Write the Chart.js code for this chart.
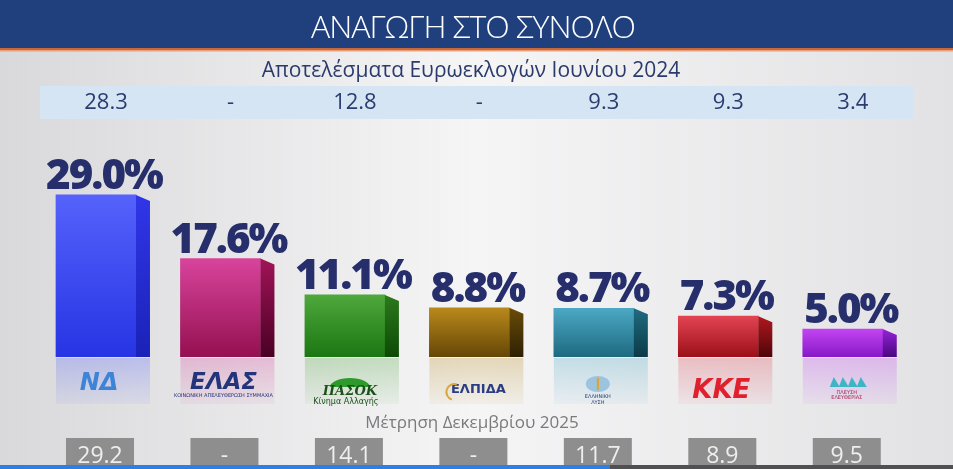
<!DOCTYPE html>
<html>
<head>
<meta charset="utf-8">
<style>
  html, body { margin: 0; padding: 0; background: #e9e9eb; }
  canvas { display: block; }
</style>
</head>
<body>
<canvas id="chart1" width="953" height="469"></canvas>
<script src="https://cdn.jsdelivr.net/npm/chart.js@4"></script>
<script>
  // data
  const parties = ['ΝΔ', 'ΕΛΑΣ', 'ΠΑΣΟΚ', 'ΕΛΠΙΔΑ', 'ΕΛΛΗΝΙΚΗ ΛΥΣΗ', 'ΚΚΕ', 'ΠΛΕΥΣΗ ΕΛΕΥΘΕΡΙΑΣ']
  const vote = [29.0, 17.6, 11.1, 8.8, 8.7, 7.3, 5.0]
  const euro2024 = [28.3, null, 12.8, null, 9.3, 9.3, 3.4]
  const dec2025 = [29.2, null, 14.1, null, 11.7, 8.9, 9.5]

  const title = 'ΑΝΑΓΩΓΗ ΣΤΟ ΣΥΝΟΛΟ'
  const subtitle = 'Αποτελέσματα Ευρωεκλογών Ιουνίου 2024'
  const footnote = 'Μέτρηση Δεκεμβρίου 2025'

  // front face top / bottom, side face top / bottom
  const colors = [
    ['#5562fb', '#2634e4', '#3036e8', '#1a22b8'],
    ['#d8449c', '#941050', '#a01458', '#4a0024'],
    ['#4ea83c', '#1c7612', '#2c7a1c', '#0c4a06'],
    ['#b9891c', '#654606', '#6a4c08', '#2e2002'],
    ['#4ca8c4', '#1d6a80', '#1f6c80', '#0c3a48'],
    ['#e24454', '#9c0f18', '#b01820', '#500408'],
    ['#c444f2', '#8618c6', '#9424d6', '#4a0880']
  ]

  const fmt = v => (v === null ? '-' : v.toFixed(1))
  const SIDE = 14
  const SHIFT = 7

  const decor = {
    id: 'decor',
    beforeDraw(chart) {
      const ctx = chart.ctx
      const W = chart.width
      const H = chart.height
      const xs = chart.scales.x
      ctx.save()
      // background
      const bg = ctx.createLinearGradient(0, 0, W, 0)
      bg.addColorStop(0, '#d9d9db')
      bg.addColorStop(0.5, '#f5f5f6')
      bg.addColorStop(1, '#e2e2e4')
      ctx.fillStyle = bg
      ctx.fillRect(0, 0, W, H)
      // header
      ctx.fillStyle = '#1f3f7d'
      ctx.fillRect(0, 0, W, 48)
      ctx.fillStyle = '#c8683a'
      ctx.fillRect(0, 48, W, 2)
      ctx.fillStyle = '#e8a07a'
      ctx.fillRect(0, 50, W, 1.5)
      ctx.fillStyle = '#ffffff'
      ctx.textAlign = 'center'
      ctx.textBaseline = 'middle'
      ctx.font = '300 32px "Open Sans"'
      ctx.letterSpacing = '-1px'
      ctx.fillText(title, 473, 29)
      ctx.letterSpacing = '0px'
      // subtitle and 2024 band
      ctx.fillStyle = '#2b3a6c'
      ctx.font = '21px "Open Sans"'
      ctx.fillText(subtitle, 471, 71)
      ctx.fillStyle = '#d5e5f4'
      ctx.fillRect(40, 86, 873, 33)
      ctx.fillStyle = '#2b3c70'
      ctx.font = '22px "Open Sans"'
      euro2024.forEach((v, i) => {
        ctx.fillText(fmt(v), xs.getPixelForValue(i) + SHIFT + 3, 103)
      })
      ctx.restore()
    },
    afterDatasetsDraw(chart) {
      const ctx = chart.ctx
      const meta = chart.getDatasetMeta(0)
      const xs = chart.scales.x
      ctx.save()
      meta.data.forEach((bar, i) => {
        const c = colors[i]
        const left = bar.x - bar.width / 2
        const right = bar.x + bar.width / 2
        const top = bar.y
        const base = bar.base
        // side face
        const sg = ctx.createLinearGradient(0, top, 0, base)
        sg.addColorStop(0, c[2])
        sg.addColorStop(1, c[3])
        ctx.fillStyle = sg
        ctx.beginPath()
        ctx.moveTo(right, top)
        ctx.lineTo(right + SIDE, top + 6)
        ctx.lineTo(right + SIDE, base)
        ctx.lineTo(right, base)
        ctx.closePath()
        ctx.fill()
        // reflection
        const rg = ctx.createLinearGradient(0, base, 0, base + 46)
        rg.addColorStop(0, c[0] + '48')
        rg.addColorStop(1, c[0] + '10')
        ctx.fillStyle = rg
        ctx.fillRect(left, base + 1, bar.width + SIDE, 46)
        // value label
        ctx.fillStyle = '#262f6b'
        ctx.textAlign = 'center'
        ctx.textBaseline = 'alphabetic'
        ctx.font = '800 42px "Open Sans"'
        ctx.letterSpacing = '-2px'
        ctx.fillText(vote[i].toFixed(1) + '%', bar.x + 8, top - 6)
        ctx.letterSpacing = '0px'
      })
      // party marks
      const cx = i => xs.getPixelForValue(i) + SHIFT
      ctx.textAlign = 'center'
      ctx.textBaseline = 'middle'
      ctx.font = 'italic bold 24px "DejaVu Sans"'
      ctx.fillStyle = '#3d84d6'
      ctx.fillText(parties[0], cx(0) - 4, 384)
      ctx.font = 'italic bold 23px "DejaVu Sans"'
      ctx.fillStyle = '#23357a'
      ctx.fillText(parties[1], cx(1) - 4, 383)
      ctx.font = '5px "DejaVu Sans"'
      ctx.fillText('ΚΟΙΝΩΝΙΚΗ ΑΠΕΛΕΥΘΕΡΩΣΗ ΣΥΜΜΑΧΙΑ', cx(1) - 4, 396)
      // pasok sun
      ctx.fillStyle = '#2f9a2c'
      ctx.beginPath()
      ctx.ellipse(cx(2) - 2, 387, 20, 9, 0, Math.PI, 0)
      ctx.fill()
      ctx.font = 'italic bold 13px "DejaVu Serif"'
      ctx.fillStyle = '#1d4f1a'
      ctx.fillText(parties[2], cx(2) - 2, 392)
      ctx.font = '8px "DejaVu Sans"'
      ctx.fillText('Κίνημα Αλλαγής', cx(2) - 6, 402)
      ctx.font = 'bold 13px "DejaVu Sans"'
      ctx.fillStyle = '#2a3c86'
      ctx.fillText(parties[3], cx(3) + 2, 390)
      ctx.strokeStyle = '#d9a640'
      ctx.lineWidth = 2
      ctx.beginPath()
      ctx.arc(cx(3) - 22, 392, 8, Math.PI * 0.6, Math.PI * 1.6)
      ctx.stroke()
      // elliniki lysi
      ctx.fillStyle = '#9cc4de'
      ctx.beginPath()
      ctx.ellipse(cx(4) - 3, 384, 12, 8, 0, 0, Math.PI * 2)
      ctx.fill()
      ctx.fillStyle = '#e8a020'
      ctx.fillRect(cx(4) - 4, 378, 2, 12)
      ctx.fillStyle = '#2a3c6e'
      ctx.font = '5px "DejaVu Sans"'
      ctx.fillText('ΕΛΛΗΝΙΚΗ', cx(4) - 3, 397)
      ctx.fillText('ΛΥΣΗ', cx(4) - 3, 403)
      ctx.font = 'italic bold 26px "DejaVu Sans"'
      ctx.fillStyle = '#e0202c'
      ctx.fillText(parties[5], cx(5) - 4, 391)
      // plefsi sails
      ctx.fillStyle = '#3cb6c4'
      for (let k = 0; k < 4; k++) {
        ctx.beginPath()
        const sx = cx(6) - 20 + k * 9
        ctx.moveTo(sx, 387)
        ctx.lineTo(sx + 4, 377)
        ctx.lineTo(sx + 10, 387)
        ctx.closePath()
        ctx.fill()
      }
      ctx.fillStyle = '#a02a50'
      ctx.font = '5px "DejaVu Sans"'
      ctx.fillText('ΠΛΕΥΣΗ', cx(6) - 3, 393)
      ctx.fillText('ΕΛΕΥΘΕΡΙΑΣ', cx(6) - 3, 398)
      // footnote and december boxes
      ctx.fillStyle = '#7a7a7c'
      ctx.font = '17px "Open Sans"'
      ctx.fillText(footnote, 472, 423)
      dec2025.forEach((v, i) => {
        const x = cx(i) - 3
        ctx.fillStyle = '#8e8e8e'
        ctx.fillRect(x - 34, 438, 68, 31)
        ctx.fillStyle = '#eeeeee'
        ctx.font = '23px "Open Sans"'
        ctx.fillText(fmt(v), x, 456)
      })
      // bottom strip
      ctx.fillStyle = '#2e7ee6'
      ctx.fillRect(0, 465, 610, 4)
      ctx.fillStyle = '#505052'
      ctx.fillRect(610, 465, 343, 4)
      ctx.restore()
    }
  }

  new Chart(document.getElementById('chart1'), {
    type: 'bar',
    data: {
      labels: parties,
      datasets: [
        {
          data: vote,
          barThickness: 80,
          borderWidth: 0,
          backgroundColor: c => {
            const chart = c.chart
            if (!chart.chartArea) return colors[c.dataIndex][0]
            const y = chart.scales.y
            const g = chart.ctx.createLinearGradient(0, y.getPixelForValue(vote[c.dataIndex]), 0, y.getPixelForValue(0))
            g.addColorStop(0, colors[c.dataIndex][0])
            g.addColorStop(1, colors[c.dataIndex][1])
            return g
          }
        }
      ]
    },
    options: {
      responsive: false,
      animation: false,
      layout: {
        padding: { left: 33.75, right: 48, top: 133.4, bottom: 112 }
      },
      plugins: {
        legend: { display: false },
        tooltip: { enabled: false }
      },
      scales: {
        x: { display: false },
        y: { display: false, min: 0, max: 40 }
      }
    },
    plugins: [decor]
  })
</script>
</body>
</html>
